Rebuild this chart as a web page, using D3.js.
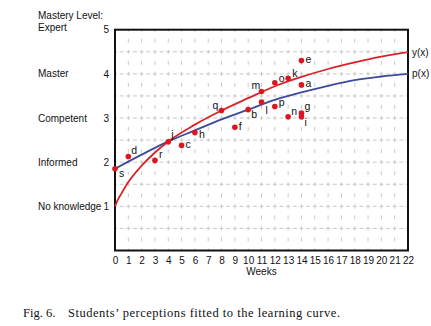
<!DOCTYPE html>
<html>
<head>
<meta charset="utf-8">
<script src="https://cdn.jsdelivr.net/npm/d3@7"></script>
<style>
  body { margin: 0; background: #fff; }
  svg { display: block; font-family: "Liberation Sans", Arial, sans-serif; }
</style>
</head>
<body>
<div id="chart"></div>
<script>
// learning curve y(x)
const redWeeks = [0, 0.25, 0.5, 1, 2, 3, 4, 6, 8, 10, 12, 14, 16, 18, 20, 22];
const redLevel = [1.0, 1.17, 1.3, 1.55, 1.92, 2.22, 2.47, 2.85, 3.17, 3.45, 3.72, 3.93, 4.11, 4.26, 4.39, 4.49];

// fitted perception curve p(x)
const blueWeeks = [0, 2, 4, 6, 8, 10, 12, 14, 16, 18, 20, 22];
const blueLevel = [1.85, 2.17, 2.47, 2.72, 2.97, 3.19, 3.41, 3.58, 3.73, 3.86, 3.94, 4.0];

// students' perceptions
const pointNames = ["s", "d", "r", "j", "c", "h", "q", "f", "b", "m", "l", "o", "p", "k", "n", "e", "a", "g", "i"];
const pointWeeks = [0, 1, 3, 4, 5, 6, 8, 9, 10, 11, 11, 12, 12, 13, 13, 14, 14, 14, 14];
const pointLevel = [1.85, 2.13, 2.04, 2.46, 2.38, 2.67, 3.17, 2.79, 3.19, 3.60, 3.36, 3.80, 3.26, 3.90, 3.03, 4.30, 3.75, 3.11, 3.03];

const levelNames = ["No knowledge", "Informed", "Competent", "Master", "Expert"];
const levelTicks = [1, 2, 3, 4, 5];
const weekTicks = d3.range(0, 23);

// label offsets (dx, dy) for each point letter
const labelDx = [4, 3, 4, 3, 4, 4, -9, 4, 3, -10, 4, 4, 4, 4, 3, 4, 4, 3, 3];
const labelDy = [8, -2, -2, -4, 3, 5, -2, 3, 8, -3, 12, -1, -1, -1, -2, 2, 2, -3, 9];

const W = 431, H = 326;
const svg = d3.select("#chart").append("svg")
    .attr("width", W)
    .attr("height", H);

const x = d3.scaleLinear().domain([0, 22]).range([115, 408]);
const y = d3.scaleLinear().domain([0, 5]).range([250.5, 29.7]);

// dashed grid
const grid = svg.append("g").attr("stroke", "#c8c8c8").attr("stroke-width", 1);
grid.selectAll(".vg")
    .data(d3.range(1, 22))
    .enter()
    .append("line")
    .attr("x1", d => x(d))
    .attr("x2", d => x(d))
    .attr("y1", y(0))
    .attr("y2", y(5))
    .attr("stroke-dasharray", "4,7.04")
    .attr("stroke-dashoffset", 2);
grid.selectAll(".hg")
    .data(d3.range(0.5, 5, 0.5))
    .enter()
    .append("line")
    .attr("x1", x(0))
    .attr("x2", x(22))
    .attr("y1", d => y(d))
    .attr("y2", d => y(d))
    .attr("stroke-dasharray", "4,2.66")
    .attr("stroke-dashoffset", 2);

// frame
svg.append("rect")
    .attr("x", x(0))
    .attr("y", y(5))
    .attr("width", x(22) - x(0))
    .attr("height", y(0) - y(5))
    .attr("fill", "none")
    .attr("stroke", "#111")
    .attr("stroke-width", 2);

// axes
const yAxis = svg.append("g")
    .attr("transform", `translate(${x(0)},0)`)
    .call(d3.axisLeft(y).tickValues(levelTicks).tickSize(0).tickPadding(6).tickFormat(d3.format("d")));
yAxis.select(".domain").remove();
yAxis.selectAll("text").style("font-size", "10px").style("font-family", "Liberation Sans, Arial, sans-serif").attr("fill", "#111");

const xAxis = svg.append("g")
    .attr("transform", `translate(0,${y(0)})`)
    .call(d3.axisBottom(x).tickValues(weekTicks).tickSize(0).tickPadding(6.5).tickFormat(d3.format("d")));
xAxis.select(".domain").remove();
xAxis.selectAll("text").style("font-size", "10px").style("font-family", "Liberation Sans, Arial, sans-serif").attr("fill", "#111");

svg.append("text")
    .attr("x", (x(0) + x(22)) / 2)
    .attr("y", 275)
    .attr("text-anchor", "middle")
    .style("font-size", "10px")
    .attr("fill", "#111")
    .text("Weeks");

// level names
svg.append("text")
    .attr("x", 38)
    .attr("y", 19)
    .style("font-size", "10px")
    .attr("fill", "#111")
    .text("Mastery Level:");
svg.selectAll(".lvl")
    .data(levelTicks)
    .enter()
    .append("text")
    .attr("x", 38)
    .attr("y", d => d === 5 ? y(d) - 2 : y(d))
    .attr("dy", "0.35em")
    .style("font-size", "10px")
    .attr("fill", "#111")
    .text((d, i) => levelNames[i]);

// curves
const line = d3.line()
    .x(d => x(d[0]))
    .y(d => y(d[1]))
    .curve(d3.curveMonotoneX);

svg.append("path")
    .datum(blueWeeks.map((w, i) => [w, blueLevel[i]]))
    .attr("d", line)
    .attr("fill", "none")
    .attr("stroke", "#3b4a9b")
    .attr("stroke-width", 1.8);

svg.append("path")
    .datum(redWeeks.map((w, i) => [w, redLevel[i]]))
    .attr("d", line)
    .attr("fill", "none")
    .attr("stroke", "#d9232b")
    .attr("stroke-width", 1.8);

svg.append("text")
    .attr("x", 412)
    .attr("y", y(redLevel[redLevel.length - 1]))
    .attr("dy", "0.35em")
    .style("font-size", "10px")
    .attr("fill", "#111")
    .text("y(x)");
svg.append("text")
    .attr("x", 412)
    .attr("y", y(blueLevel[blueLevel.length - 1]))
    .attr("dy", "0.35em")
    .style("font-size", "10px")
    .attr("fill", "#111")
    .text("p(x)");

// points
const pts = pointNames.map((n, i) => ({ name: n, w: pointWeeks[i], v: pointLevel[i], dx: labelDx[i], dy: labelDy[i] }));

svg.selectAll(".pt")
    .data(pts)
    .enter()
    .append("circle")
    .attr("class", "pt")
    .attr("cx", d => x(d.w))
    .attr("cy", d => y(d.v))
    .attr("r", 2.8)
    .attr("fill", "#e0141e");

svg.selectAll(".ptlabel")
    .data(pts)
    .enter()
    .append("text")
    .attr("x", d => x(d.w) + d.dx)
    .attr("y", d => y(d.v) + d.dy)
    .style("font-size", "10.5px")
    .attr("fill", "#111")
    .text(d => d.name);

// caption
svg.append("text")
    .attr("x", 23)
    .attr("y", 317)
    .style("font-family", "Liberation Serif, Times New Roman, serif")
    .style("font-size", "12.5px")
    .attr("fill", "#111")
    .text("Fig. 6.");
svg.append("text")
    .attr("x", 68)
    .attr("y", 317)
    .attr("textLength", 272)
    .attr("lengthAdjust", "spacing")
    .style("font-family", "Liberation Serif, Times New Roman, serif")
    .style("font-size", "12.5px")
    .attr("fill", "#111")
    .text("Students’ perceptions fitted to the learning curve.");
</script>
</body>
</html>
